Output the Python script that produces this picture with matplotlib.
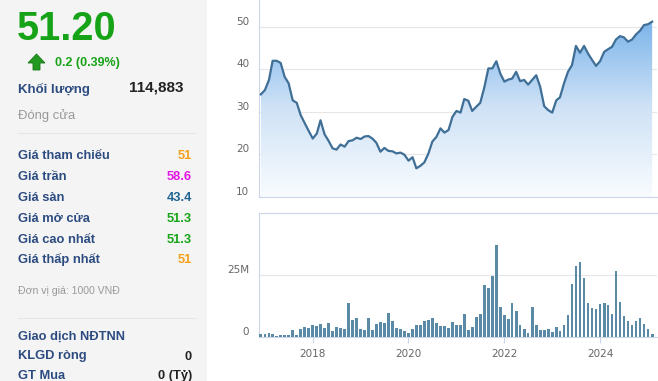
import matplotlib
matplotlib.use("Agg")
import matplotlib.pyplot as plt
import matplotlib.dates as mdates
import matplotlib.transforms as mtransforms
from matplotlib.colors import LinearSegmentedColormap
from matplotlib.patches import Rectangle, Polygon
import numpy as np
import pandas as pd

W, H = 658, 381

# monthly closing price (x1000 VND), from Dec 2016
price_vals = [34.1, 35.1, 37.5, 42.0, 42.0, 41.5, 38.2, 36.7, 32.7, 32.1,
              29.2, 27.3, 25.5, 23.7, 24.9, 28.0, 24.7, 23.2, 21.4, 21.1,
              22.3, 21.8, 23.1, 23.3, 23.9, 23.6, 24.2, 24.3, 23.7, 22.7,
              20.6, 21.5, 20.8, 20.7, 20.2, 20.4, 19.9, 18.5, 19.3, 16.7,
              17.3, 18.1, 20.2, 23.0, 24.1, 26.1, 25.1, 25.7, 28.8, 30.2,
              29.8, 33.0, 32.6, 30.2, 31.2, 32.1, 35.7, 40.2, 40.2, 41.9,
              39.0, 37.1, 37.6, 37.8, 39.4, 37.2, 37.5, 36.4, 37.5, 38.6,
              35.9, 31.3, 30.4, 29.8, 32.7, 33.4, 36.7, 39.4, 41.0, 45.5,
              43.9, 45.5, 43.7, 42.2, 40.8, 41.9, 44.1, 44.7, 45.3, 47.0,
              47.8, 47.5, 46.5, 47.0, 48.2, 49.1, 50.4, 50.6, 51.2]

# monthly volume, millions of shares
volume_m = [1.1, 1.1, 1.5, 1.1, 0.4, 0.7, 0.7, 0.7, 2.7, 0.7,
            3.1, 3.9, 3.7, 4.8, 4.5, 5.2, 3.7, 5.6, 2.3, 3.9,
            3.7, 3.3, 13.7, 6.8, 7.6, 3.1, 2.9, 7.6, 2.7, 5.2,
            6.0, 5.6, 9.6, 6.4, 3.5, 3.1, 2.3, 1.5, 3.1, 4.8,
            4.8, 6.4, 6.8, 7.6, 5.6, 4.3, 4.3, 3.5, 6.0, 4.8,
            4.8, 9.2, 2.7, 3.9, 8.0, 9.2, 21.1, 19.8, 24.7, 37.4,
            12.1, 8.8, 7.2, 13.7, 10.5, 4.8, 3.1, 1.5, 12.1, 4.8,
            2.7, 2.7, 3.1, 1.9, 3.9, 2.3, 4.8, 8.8, 21.5, 28.8,
            30.4, 23.9, 13.7, 11.7, 11.3, 13.3, 13.7, 12.9, 9.2, 26.8,
            14.1, 8.4, 6.4, 4.8, 6.4, 7.6, 5.2, 3.1, 1.1]

start_month = "2016-12-01"
price_dates = pd.date_range(start_month, periods=len(price_vals), freq="MS")
volume_dates = pd.date_range(start_month, periods=len(volume_m), freq="MS")

price_ticks = [10, 20, 30, 40, 50]
volume_ticks = [0, 25]
volume_tick_labels = ["0", "25M"]
year_ticks = ["2018-01-01", "2020-01-01", "2022-01-01", "2024-01-01"]
year_labels = ["2018", "2020", "2022", "2024"]

# left info panel
last_price = "51.20"
change_text = "0.2 (0.39%)"
volume_label, volume_value = "Khối lượng", "114,883"
price_rows = [
    ("Giá tham chiếu", "51", "#f5a01a"),
    ("Giá trần", "58.6", "#e316e3"),
    ("Giá sàn", "43.4", "#1f6391"),
    ("Giá mở cửa", "51.3", "#17a317"),
    ("Giá cao nhất", "51.3", "#17a317"),
    ("Giá thấp nhất", "51", "#f5a01a"),
]
foreign_rows = [("KLGD ròng", "0"), ("GT Mua", "0 (Tỷ)")]

plt.rcParams['font.family'] = ['Liberation Sans', 'DejaVu Sans']

fig = plt.figure(figsize=(W / 100, H / 100), dpi=100)


def fx(px):
    return px / W


def fy(py):
    return 1 - py / H


fig.patches.append(Rectangle((0, 0), fx(207), 1, transform=fig.transFigure,
                             facecolor="#f4f4f4", edgecolor="none", zorder=0))

GREEN = "#17a317"
LABEL = "#2c4b80"

fig.text(fx(17), fy(40), last_price, color=GREEN, fontsize=28.5,
         fontweight="bold", va="baseline")
arrow = [(28, 63), (36.5, 54), (45, 63), (40, 63), (40, 70), (33, 70), (33, 63)]
fig.patches.append(Polygon([(fx(a), fy(b)) for a, b in arrow], closed=True,
                           transform=fig.transFigure, facecolor="#229a22",
                           edgecolor="#157515", lw=0.6))
fig.text(fx(55), fy(66), change_text, color=GREEN, fontsize=9,
         fontweight="bold", va="baseline")
fig.text(fx(18), fy(92.5), volume_label, color=LABEL, fontsize=9.5,
         fontweight="bold", va="baseline")
fig.text(fx(183), fy(92), volume_value, color="#222222", fontsize=11,
         fontweight="bold", va="baseline", ha="right")
fig.text(fx(18), fy(119.5), "Đóng cửa", color="#999999", fontsize=9.4,
         va="baseline")

fig.add_artist(plt.Line2D([fx(18), fx(195)], [fy(133), fy(133)],
                          transform=fig.transFigure, color="#e6e6e6", lw=0.8))

row_y = 159.3
for name, val, col in price_rows:
    fig.text(fx(18), fy(row_y), name, color=LABEL, fontsize=9.3,
             fontweight="bold", va="baseline")
    fig.text(fx(192), fy(row_y), val, color=col, fontsize=9.3,
             fontweight="bold", va="baseline", ha="right")
    row_y += 20.8

fig.text(fx(18), fy(294), "Đơn vị giá: 1000 VNĐ", color="#999999",
         fontsize=7.6, va="baseline")
fig.add_artist(plt.Line2D([fx(18), fx(195)], [fy(318), fy(318)],
                          transform=fig.transFigure, color="#e6e6e6", lw=0.8))
fig.text(fx(18), fy(339.3), "Giao dịch NĐTNN", color=LABEL, fontsize=9.3,
         fontweight="bold", va="baseline")
row_y = 359.5
for name, val in foreign_rows:
    fig.text(fx(18), fy(row_y), name, color=LABEL, fontsize=9.3,
             fontweight="bold", va="baseline")
    fig.text(fx(192), fy(row_y), val, color="#222222", fontsize=9.3,
             fontweight="bold", va="baseline", ha="right")
    row_y += 19.5

# chart axes
x_left, x_right = 259, 657
xlim = (mdates.date2num(pd.Timestamp("2016-11-17")),
        mdates.date2num(pd.Timestamp("2025-03-10")))

ax = fig.add_axes([fx(x_left), fy(196.8), fx(x_right - x_left), 196.8 / H])
axv = fig.add_axes([fx(x_left), fy(336.7), fx(x_right - x_left), 124 / H])

AXIS = "#ccd6eb"
GRID = "#e6e6e6"
TICK = "#666666"

xd = mdates.date2num(price_dates)
ax.plot(xd, price_vals, color="#3f6f96", lw=1.6, zorder=3,
        solid_joinstyle="round")
poly = ax.fill_between(xd, price_vals, 10, color="none", lw=0)
cmap = LinearSegmentedColormap.from_list("area", ["#f9fcff", "#cfe2f6", "#7ab3ea"])
grad = np.linspace(0, 1, 256).reshape(-1, 1)
img = ax.imshow(grad, cmap=cmap, aspect="auto", origin="lower",
                extent=[xd[0], xd[-1], 10, 52], zorder=2)
img.set_clip_path(poly.get_paths()[0], transform=ax.transData)

ax.set_xlim(xlim)
ax.set_ylim(10, 56.3)
ax.set_yticks(price_ticks)
ax.set_xticks([])
ax.grid(axis="y", color=GRID, lw=0.8)
ax.set_axisbelow(True)
for s in ["top", "right"]:
    ax.spines[s].set_visible(False)
ax.spines["left"].set_color(AXIS)
ax.spines["bottom"].set_color(AXIS)
ax.tick_params(axis="y", length=0, pad=7, labelcolor=TICK)

axv.bar(mdates.date2num(volume_dates), volume_m, width=21, color="#5b8aa6",
        zorder=3)
axv.set_xlim(xlim)
axv.set_ylim(0, 50.5)
axv.set_yticks(volume_ticks)
axv.set_yticklabels(volume_tick_labels)
axv.set_xticks(mdates.date2num(pd.to_datetime(year_ticks)))
axv.set_xticklabels(year_labels)
axv.grid(axis="y", color=GRID, lw=0.8)
axv.set_axisbelow(True)
axv.spines["right"].set_visible(False)
for s in ["top", "left", "bottom"]:
    axv.spines[s].set_color(AXIS)
axv.tick_params(axis="y", length=0, pad=7, labelcolor=TICK)
axv.tick_params(axis="x", length=4, color=AXIS, pad=5, labelcolor=TICK)

shift = mtransforms.ScaledTranslation(0, 6 / 100, fig.dpi_scale_trans)
for a in (ax, axv):
    for lab in a.get_yticklabels():
        lab.set_fontfamily("DejaVu Sans")
        lab.set_fontsize(7.5)
        lab.set_transform(lab.get_transform() + shift)
for lab in axv.get_xticklabels():
    lab.set_fontfamily("DejaVu Sans")
    lab.set_fontsize(7.5)

fig.savefig("out.png", dpi=100)
